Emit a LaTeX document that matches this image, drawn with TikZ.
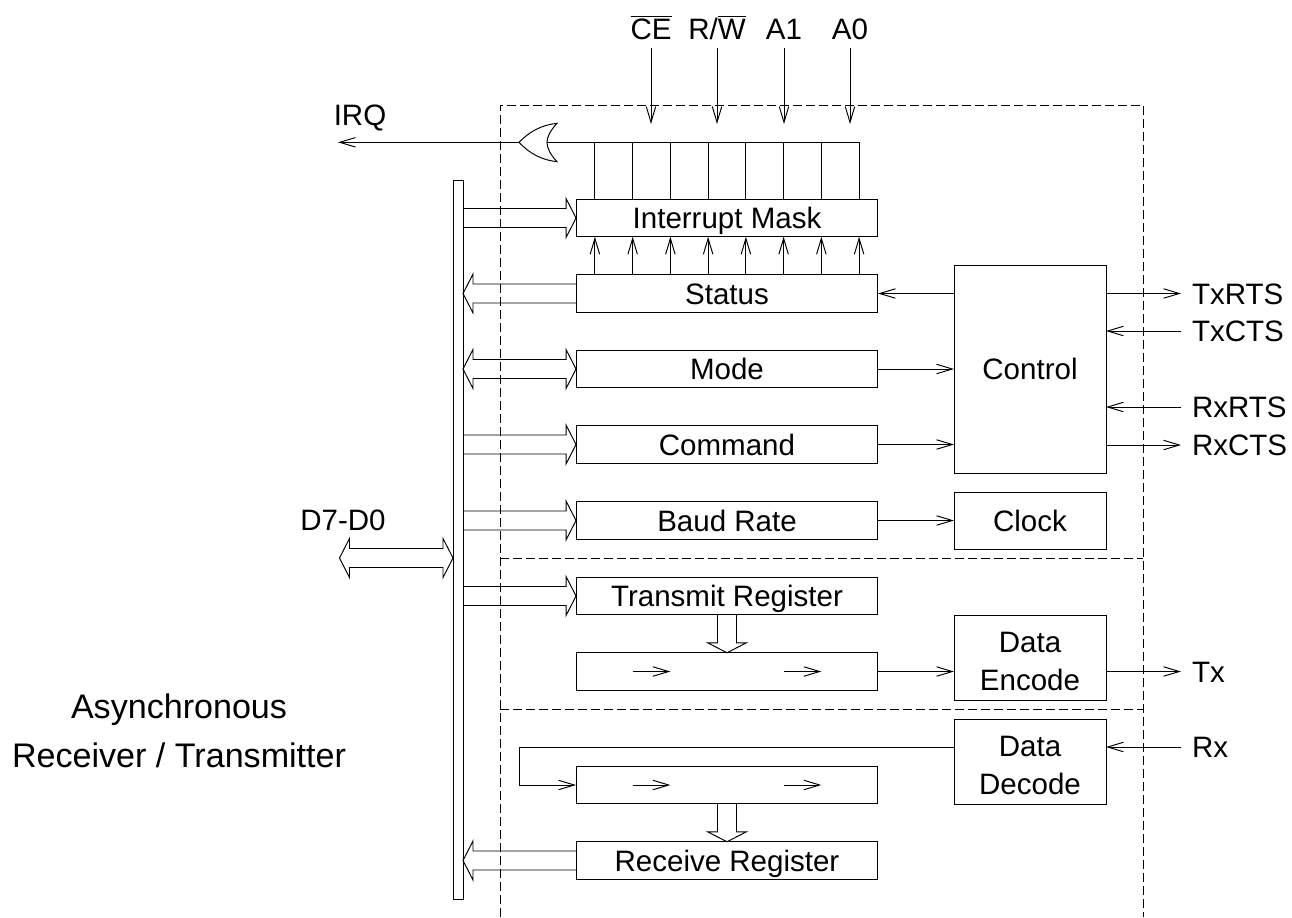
\documentclass[tikz,border=0pt]{standalone}
\usepackage{fontspec}
\setmainfont{Liberation Sans}
\usetikzlibrary{arrows.meta,calc}

\begin{document}
\begin{tikzpicture}[
    x=0.02cm,
    y=-0.02cm,
    line width=0.55pt,
    >={Straight Barb[length=9pt,width=5.4pt,line width=0.55pt]},
    font=\fontsize{16.8}{20}\selectfont,
    regblock/.style={rectangle, draw, inner sep=0pt, outer sep=0pt, minimum width=6.04cm, minimum height=0.75cm, text height=0.43cm, text depth=0pt},
    sideblock/.style={rectangle, draw, inner sep=0pt, outer sep=0pt, minimum width=3.04cm, align=center, font=\fontsize{16.8}{21.5}\selectfont},
    textlabel/.style={inner sep=0pt, text height=0.43cm, text depth=0pt},
    toplabel/.style={textlabel, anchor=south, outer sep=0.18cm},
    extlabel/.style={textlabel, anchor=west, outer sep=0.22cm},
    biglabel/.style={textlabel, font=\fontsize{19.4}{23}\selectfont},
    wire/.style={->},
    frameline/.style={dash pattern=on 5pt off 2.4pt},
    bus/.style={to path={
        ($(\tikztostart)!0.19cm!90:(\tikztotarget)$) --
        ($($(\tikztotarget)!0.2cm!(\tikztostart)$)!0.19cm!90:(\tikztotarget)$) --
        ($($(\tikztotarget)!0.2cm!(\tikztostart)$)!0.39cm!90:(\tikztotarget)$) --
        (\tikztotarget) --
        ($($(\tikztotarget)!0.2cm!(\tikztostart)$)!0.39cm!-90:(\tikztotarget)$) --
        ($($(\tikztotarget)!0.2cm!(\tikztostart)$)!0.19cm!-90:(\tikztotarget)$) --
        ($(\tikztostart)!0.19cm!-90:(\tikztotarget)$)
    }},
    busboth/.style={to path={
        (\tikztostart) --
        ($($(\tikztostart)!0.2cm!(\tikztotarget)$)!0.39cm!90:(\tikztotarget)$) --
        ($($(\tikztostart)!0.2cm!(\tikztotarget)$)!0.19cm!90:(\tikztotarget)$) --
        ($($(\tikztotarget)!0.2cm!(\tikztostart)$)!0.19cm!90:(\tikztotarget)$) --
        ($($(\tikztotarget)!0.2cm!(\tikztostart)$)!0.39cm!90:(\tikztotarget)$) --
        (\tikztotarget) --
        ($($(\tikztotarget)!0.2cm!(\tikztostart)$)!0.39cm!-90:(\tikztotarget)$) --
        ($($(\tikztotarget)!0.2cm!(\tikztostart)$)!0.19cm!-90:(\tikztotarget)$) --
        ($($(\tikztostart)!0.2cm!(\tikztotarget)$)!0.19cm!-90:(\tikztotarget)$) --
        ($($(\tikztostart)!0.2cm!(\tikztotarget)$)!0.39cm!-90:(\tikztotarget)$) --
        cycle
    }}
]
\useasboundingbox (0,0) rectangle (1292,917);

% ---------------------------------------------------------------- Frame
\coordinate (frameTL) at (500,105);
\coordinate (frameTR) at (1143,105);
\coordinate (frameBL) at (500,917);
\coordinate (frameBR) at (1143,917);
\coordinate (splitAL) at (500,558);
\coordinate (splitAR) at (1143,558);
\coordinate (splitBL) at (500,709);
\coordinate (splitBR) at (1143,709);
\draw[frameline] (frameBL) -- (frameTL) -- (frameTR) -- (frameBR);
\draw[frameline] (splitAL) -- (splitAR);
\draw[frameline] (splitBL) -- (splitBR);

% ---------------------------------------------------------------- Blocks
\node[rectangle, draw, inner sep=0pt, outer sep=0pt, minimum width=0.2cm, minimum height=14.4cm] (databus) at (458,540) {};
\node[regblock] (mask)     at (727,218) {Interrupt Mask};
\node[regblock] (status)   at (727,293.5) {Status};
\node[regblock] (mode)     at (727,369) {Mode};
\node[regblock] (command)  at (727,444.5) {Command};
\node[regblock] (baud)     at (727,520.5) {Baud Rate};
\node[regblock] (transmit) at (727,596) {Transmit Register};
\node[regblock] (txshift)  at (727,671.5) {};
\node[regblock] (rxshift)  at (727,785) {};
\node[regblock] (receive)  at (727,860.5) {Receive Register};
\node[sideblock, minimum height=4.16cm] (control) at (1030,369) {Control};
\node[sideblock, minimum height=1.14cm] (clock)   at (1030,520.5) {Clock};
\node[sideblock, minimum height=1.7cm]  (encode)  at (1030,657.5) {\rule{0pt}{0.57cm}Data\\Encode};
\node[sideblock, minimum height=1.7cm]  (decode)  at (1030,761.5) {\rule{0pt}{0.57cm}Data\\Decode};

% ---------------------------------------------------------------- Labels
\node[toplabel] (ce) at (651,48) {$\overline{\mbox{CE}}$};
\node[toplabel] (rw) at (717,48) {R/$\overline{\mbox{W}}$};
\node[toplabel] (aone) at (784,48) {A1};
\node[toplabel] (azero) at (850,48) {A0};
\node[textlabel] (irq) at (360,115) {IRQ};
\node[textlabel] (dlabel) at (343,520) {D7-D0};
\node[biglabel] (uartA) at (179,707.5) {Asynchronous};
\node[biglabel] (uartB) at (179,756.5) {Receiver / Transmitter};
\node[extlabel] (txrts) at (1181,293.5) {TxRTS};
\node[extlabel] (txcts) at (1181,331) {TxCTS};
\node[extlabel] (rxrts) at (1181,407) {RxRTS};
\node[extlabel] (rxcts) at (1181,445) {RxCTS};
\node[extlabel] (tx) at (1181,671.5) {Tx};
\node[extlabel] (rx) at (1181,747) {Rx};

% ---------------------------------------------------------------- OR gate
\coordinate (orTip) at (519,142.3);
\coordinate (orIn)  at (547,142.3);
\coordinate (orTop) at (557,123.3);
\coordinate (orBot) at (557,161.7);
\coordinate (irqEnd) at (338,142.3);
\draw (orTip) .. controls (530,131) and (542,125) .. (orTop)
      .. controls (550,131) and (547,137) .. (orIn)
      .. controls (547,148) and (550,154) .. (orBot)
      .. controls (542,160) and (530,154) .. (orTip);
\draw[wire] (orTip) -- (irqEnd);

% ---------------------------------------------------------------- Mask lines
\coordinate (maskA) at ($(mask.north west)!0.0625!(mask.north east)$);
\coordinate (maskB) at ($(mask.north west)!0.1875!(mask.north east)$);
\coordinate (maskC) at ($(mask.north west)!0.3125!(mask.north east)$);
\coordinate (maskD) at ($(mask.north west)!0.4375!(mask.north east)$);
\coordinate (maskE) at ($(mask.north west)!0.5625!(mask.north east)$);
\coordinate (maskF) at ($(mask.north west)!0.6875!(mask.north east)$);
\coordinate (maskG) at ($(mask.north west)!0.8125!(mask.north east)$);
\coordinate (maskH) at ($(mask.north west)!0.9375!(mask.north east)$);
\draw (orIn) -- (maskH |- orIn) -- (maskH);
\draw (maskA) -- (maskA |- orIn);
\draw (maskB) -- (maskB |- orIn);
\draw (maskC) -- (maskC |- orIn);
\draw (maskD) -- (maskD |- orIn);
\draw (maskE) -- (maskE |- orIn);
\draw (maskF) -- (maskF |- orIn);
\draw (maskG) -- (maskG |- orIn);
% Status bits into the mask
\draw[wire] (maskA |- status.north) -- (maskA |- mask.south);
\draw[wire] (maskB |- status.north) -- (maskB |- mask.south);
\draw[wire] (maskC |- status.north) -- (maskC |- mask.south);
\draw[wire] (maskD |- status.north) -- (maskD |- mask.south);
\draw[wire] (maskE |- status.north) -- (maskE |- mask.south);
\draw[wire] (maskF |- status.north) -- (maskF |- mask.south);
\draw[wire] (maskG |- status.north) -- (maskG |- mask.south);
\draw[wire] (maskH |- status.north) -- (maskH |- mask.south);

% ---------------------------------------------------------------- Connections
% Chip select and address inputs
\coordinate (inputEnd) at (0,124);
\draw[wire] (ce.south) -- (ce.south |- inputEnd);
\draw[wire] (rw.south) -- (rw.south |- inputEnd);
\draw[wire] (aone.south) -- (aone.south |- inputEnd);
\draw[wire] (azero.south) -- (azero.south |- inputEnd);

% Data bus <-> registers
\draw[bus] (databus.east |- mask.west) to (mask.west);
\draw[bus] (status.west) to (databus.east |- status.west);
\draw[busboth] (databus.east |- mode.west) to (mode.west);
\draw[bus] (databus.east |- command.west) to (command.west);
\draw[bus] (databus.east |- baud.west) to (baud.west);
\draw[bus] (databus.east |- transmit.west) to (transmit.west);
\draw[bus] (receive.west) to (databus.east |- receive.west);
\coordinate (dataEnd) at (339.5,558);
\draw[busboth] (dataEnd) to (databus.west |- dataEnd);

% Shift registers
\draw[bus] (transmit.south) to (txshift.north);
\draw[bus] (rxshift.south) to (receive.north);
\coordinate (shiftA) at ($(txshift.west)!0.1875!(txshift.east)$);
\coordinate (shiftB) at ($(txshift.west)!0.3125!(txshift.east)$);
\coordinate (shiftC) at ($(txshift.west)!0.6875!(txshift.east)$);
\coordinate (shiftD) at ($(txshift.west)!0.8125!(txshift.east)$);
\draw[wire] (shiftA) -- (shiftB);
\draw[wire] (shiftC) -- (shiftD);
\draw[wire] (shiftA |- rxshift.west) -- (shiftB |- rxshift.west);
\draw[wire] (shiftC |- rxshift.west) -- (shiftD |- rxshift.west);

% Control and clock
\draw[wire] (control.west |- status.east) -- (status.east);
\draw[wire] (mode.east) -- (control.west |- mode.east);
\draw[wire] (command.east) -- (control.west |- command.east);
\draw[wire] (baud.east) -- (clock.west);
\draw[wire] (control.east |- txrts.west) -- (txrts.west);
\draw[wire] (txcts.west) -- (control.east |- txcts.west);
\draw[wire] (rxrts.west) -- (control.east |- rxrts.west);
\draw[wire] (control.east |- rxcts.west) -- (rxcts.west);

% Serial data paths
\draw[wire] (txshift.east) -- (encode.west |- txshift.east);
\draw[wire] (encode.east |- tx.west) -- (tx.west);
\draw[wire] (rx.west) -- (decode.east |- rx.west);
\coordinate (rxBend) at (519,747);
\draw[wire] (decode.west |- rxBend) -- (rxBend) |- (rxshift.west);

\end{tikzpicture}
\end{document}
